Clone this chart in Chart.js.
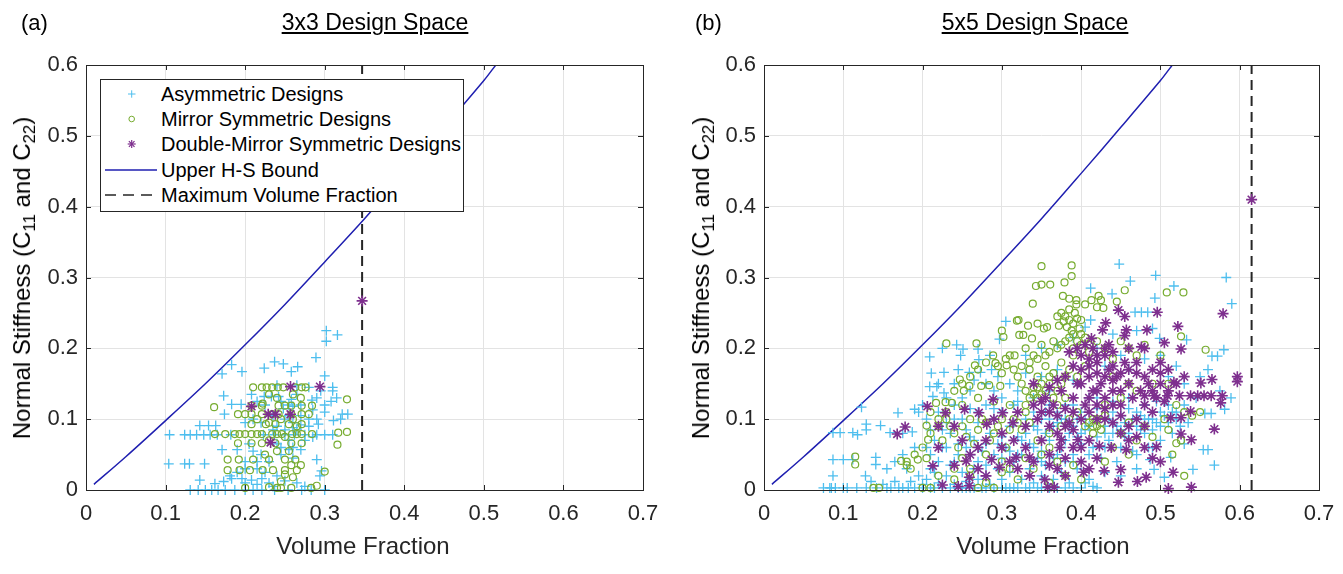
<!DOCTYPE html>
<html><head><meta charset="utf-8">
<script src="https://cdn.jsdelivr.net/npm/chart.js@4.4.1/dist/chart.umd.min.js"></script>
<style>
html,body{margin:0;padding:0;background:#fff;}
body{width:1343px;height:574px;position:relative;overflow:hidden;font-family:"Liberation Sans",Arial,sans-serif;}
.panel{position:absolute;top:0;height:574px;}
.panel canvas{position:absolute;left:0;top:0;}
.plab{position:absolute;font-size:22px;line-height:22px;color:#000;white-space:nowrap;}
.title{position:absolute;font-size:23px;line-height:23px;color:#000;text-decoration:underline;text-underline-offset:2px;white-space:nowrap;transform:translateX(-50%);}
.xt{position:absolute;font-size:24px;line-height:24px;color:#262626;white-space:nowrap;transform:translate(-50%,-50%);}
.yt{position:absolute;font-size:24px;line-height:24px;color:#000;white-space:nowrap;transform:translate(-50%,-50%) rotate(-90deg);}
.yt sub{font-size:70%;vertical-align:-0.28em;line-height:0;}
.legend{position:absolute;left:100px;top:79px;width:364px;height:133px;background:#fff;}
.legend svg{position:absolute;left:0;top:0;}
.legend span{position:absolute;left:61px;font-size:20px;line-height:20px;color:#000;white-space:nowrap;}
</style></head>
<body>
<div class="panel" style="left:0;width:671px;"><canvas id="c1" width="671" height="574"></canvas></div>
<div class="panel" style="left:671px;width:672px;"><canvas id="c2" width="672" height="574"></canvas></div>

<div class="plab" style="left:21px;top:12px;">(a)</div>
<div class="title" style="left:375px;top:11px;">3x3 Design Space</div>
<div class="plab" style="left:695px;top:12px;">(b)</div>
<div class="title" style="left:1035px;top:11px;">5x5 Design Space</div>

<div class="xt" style="left:363px;top:546px;">Volume Fraction</div>
<div class="xt" style="left:1043px;top:546px;">Volume Fraction</div>
<div class="yt" style="left:22px;top:278px;">Normal Stiffness (C<sub>11</sub> and C<sub>22</sub>)</div>
<div class="yt" style="left:701px;top:278px;">Normal Stiffness (C<sub>11</sub> and C<sub>22</sub>)</div>

<div class="legend">
<svg width="364" height="133">
<rect x="0.5" y="0.5" width="363" height="132" fill="#fff" stroke="#262626" stroke-width="1"/>
<g stroke="#4DBEEE" stroke-width="1"><line x1="28" y1="15" x2="35.5" y2="15"/><line x1="31.7" y1="11.3" x2="31.7" y2="18.7"/></g>
<circle cx="31.7" cy="40" r="2.8" fill="none" stroke="#77AC30" stroke-width="1"/>
<g stroke="#7E2F8E" stroke-width="1.2"><line x1="27.7" y1="65" x2="35.7" y2="65"/><line x1="31.7" y1="61" x2="31.7" y2="69"/><line x1="28.9" y1="62.2" x2="34.5" y2="67.8"/><line x1="28.9" y1="67.8" x2="34.5" y2="62.2"/></g>
<line x1="5" y1="91" x2="57" y2="91" stroke="#1f1fb0" stroke-width="1.5"/>
<line x1="5" y1="116" x2="57" y2="116" stroke="#262626" stroke-width="1.5" stroke-dasharray="11 7"/>
</svg>
<span style="top:5px;">Asymmetric Designs</span>
<span style="top:30px;">Mirror Symmetric Designs</span>
<span style="top:55px;">Double-Mirror Symmetric Designs</span>
<span style="top:81px;">Upper H-S Bound</span>
<span style="top:106px;">Maximum Volume Fraction</span>
</div>

<script>
// ---------- DATA ----------
const xTickLabels = ['0','0.1','0.2','0.3','0.4','0.5','0.6','0.7'];
const yTickLabels = ['0','0.1','0.2','0.3','0.4','0.5','0.6'];

// Upper Hashin-Shtrikman bound
const hsX = [0.01,0.05,0.1,0.15,0.2,0.25,0.3,0.35,0.4,0.45,0.5,0.515];
const hsY = [0.008,0.047,0.098,0.15,0.205,0.262,0.322,0.383,0.447,0.512,0.578,0.6];

const maxVF3 = 0.347;
const maxVF5 = 0.615;

// 3x3 design space
const asym3 = [
[0.302,0.225],[0.302,0.21],[0.316,0.219],[0.289,0.187],[0.183,0.177],[0.171,0.164],[0.196,0.167],[0.224,0.172],[0.237,0.181],[0.248,0.178],
[0.258,0.167],[0.266,0.174],[0.30,0.161],[0.173,0.133],[0.183,0.121],[0.195,0.121],[0.208,0.135],[0.224,0.132],[0.233,0.132],[0.242,0.132],
[0.258,0.128],[0.265,0.135],[0.284,0.127],[0.308,0.125],[0.285,0.113],[0.30,0.11],[0.329,0.107],[0.322,0.107],[0.311,0.098],[0.292,0.093],
[0.174,0.107],[0.143,0.091],[0.154,0.091],[0.163,0.091],
[0.105,0.078],[0.124,0.078],[0.131,0.078],[0.139,0.078],[0.148,0.078],[0.156,0.078],[0.165,0.078],[0.182,0.078],[0.223,0.078],[0.237,0.078],
[0.25,0.078],[0.262,0.078],[0.275,0.078],[0.29,0.078],[0.30,0.078],[0.31,0.078],
[0.171,0.057],[0.19,0.057],[0.245,0.06],[0.255,0.057],[0.27,0.057],
[0.104,0.037],[0.124,0.037],[0.130,0.037],[0.149,0.037],[0.29,0.043],
[0.181,0.02],[0.143,0.014],[0.162,0.009],[0.173,0.012],[0.183,0.016],[0.196,0.016],[0.208,0.014],[0.221,0.016],[0.294,0.02],[0.296,0.027],
[0.2,0.01],[0.215,0.008],[0.23,0.01],
[0.131,0],[0.141,0],[0.150,0],[0.158,0],[0.166,0],[0.175,0],[0.187,0],[0.2,0],[0.21,0],[0.221,0],[0.237,0],[0.254,0],[0.271,0],[0.283,0],[0.30,0],
[0.25,0.1],[0.26,0.095],[0.27,0.105],[0.28,0.09],[0.22,0.095],[0.235,0.085],[0.248,0.115],[0.26,0.118],[0.27,0.12],[0.28,0.145],
[0.265,0.148],[0.2,0.095],[0.21,0.1],[0.235,0.105],[0.265,0.085],[0.275,0.07],[0.285,0.075],[0.255,0.07],[0.23,0.04],[0.215,0.04],
[0.2,0.04],[0.26,0.045],[0.295,0.14],[0.31,0.145],[0.32,0.1],[0.29,0.1],[0.2,0.03],[0.19,0.025],[0.255,0.12],[0.24,0.148],
[0.24,0.09],[0.25,0.085],[0.26,0.088],[0.27,0.092],[0.28,0.1],[0.255,0.105],[0.245,0.125],[0.225,0.12],[0.215,0.125],[0.24,0.065],
[0.26,0.06],[0.22,0.05],[0.245,0.05],[0.205,0.065],[0.21,0.055],[0.215,0.03],[0.225,0.025],[0.24,0.02],[0.25,0.013],[0.265,0.01],
[0.275,0.005],[0.235,0.005],[0.29,0.13],[0.3,0.12],[0.315,0.13],[0.31,0.14]
];
const mirror3 = [
[0.21,0.145],[0.221,0.145],[0.227,0.145],[0.234,0.145],[0.241,0.145],[0.248,0.145],[0.263,0.145],[0.271,0.145],[0.276,0.145],
[0.161,0.117],[0.328,0.128],[0.222,0.122],
[0.208,0.119],[0.221,0.119],[0.242,0.119],[0.25,0.119],[0.258,0.119],[0.271,0.119],[0.284,0.119],
[0.191,0.107],[0.2,0.107],[0.208,0.107],[0.221,0.107],[0.234,0.107],[0.242,0.107],[0.258,0.107],[0.271,0.107],[0.28,0.107],
[0.208,0.093],[0.226,0.093],[0.238,0.093],[0.255,0.093],[0.271,0.093],
[0.162,0.079],[0.175,0.079],[0.187,0.079],[0.193,0.079],[0.2,0.079],[0.208,0.079],[0.215,0.079],[0.221,0.079],[0.234,0.079],[0.24,0.079],
[0.246,0.079],[0.259,0.079],[0.265,0.079],[0.271,0.079],[0.284,0.079],[0.317,0.081],[0.328,0.082],
[0.316,0.064],
[0.191,0.066],[0.208,0.066],[0.221,0.066],[0.238,0.066],[0.258,0.066],[0.271,0.066],
[0.178,0.043],[0.192,0.043],[0.21,0.043],[0.23,0.043],[0.25,0.043],[0.263,0.043],
[0.178,0.028],[0.193,0.028],[0.206,0.028],[0.222,0.028],[0.235,0.028],[0.25,0.028],[0.265,0.028],[0.30,0.026],
[0.258,0.035],[0.26,0.018],[0.25,0.022],
[0.2,0.003],[0.24,0.003],[0.245,0.003],[0.258,0.003],[0.283,0.003],[0.29,0.006],
[0.23,0.095],[0.245,0.1],[0.26,0.1],[0.265,0.09],[0.25,0.075],[0.23,0.07],[0.27,0.13],[0.26,0.135],[0.24,0.13],[0.23,0.135],
[0.215,0.1],[0.255,0.055],[0.225,0.05],[0.24,0.055],[0.27,0.035],[0.245,0.012],[0.23,0.004]
];
const double3 = [
[0.347,0.267],[0.257,0.146],[0.294,0.146],[0.208,0.118],[0.229,0.107],[0.238,0.107],[0.257,0.107],[0.232,0.067]
];

// 5x5 design space
const asym5 = [
[0.075,0.003],[0.083,0.003],[0.09,0.003],[0.087,0.02],[0.087,0.043],[0.1,0.043],[0.112,0.043],[0.087,0.081],[0.096,0.081],[0.112,0.081],
[0.118,0.078],[0.117,0.003],[0.129,0.003],[0.142,0.003],[0.123,0.117],[0.129,0.093],[0.129,0.085],[0.147,0.091],[0.141,0.046],[0.141,0.036],
[0.128,0.02],[0.135,0.012],[0.15,0.008],[0.16,0.003],[0.165,0.012],[0.17,0.003],[0.159,0.081],[0.169,0.109],[0.19,0.114],[0.195,0.11],
[0.187,0.082],[0.19,0.06],[0.175,0.08],[0.18,0.03],[0.185,0.012],[0.19,0.003],[0.195,0.02],[0.175,0.05],[0.165,0.04],[0.155,0.03],
[0.175,0.003],[0.182,0.003],
[0.211,0.165],[0.227,0.166],[0.259,0.166],[0.273,0.166],[0.209,0.188],[0.248,0.19],[0.271,0.184],[0.285,0.19],[0.225,0.2],[0.243,0.205],
[0.251,0.199],[0.27,0.199],[0.287,0.17],[0.297,0.213],[0.305,0.238],[0.209,0.146],[0.218,0.146],[0.227,0.137],[0.213,0.132],[0.24,0.15],
[0.26,0.14],[0.28,0.15],[0.295,0.16],
[0.2,0.12],[0.205,0.1],[0.21,0.085],[0.215,0.07],[0.22,0.11],[0.225,0.06],[0.23,0.095],[0.235,0.08],[0.24,0.12],[0.245,0.065],
[0.25,0.1],[0.255,0.085],[0.26,0.115],[0.265,0.07],[0.27,0.095],[0.275,0.055],[0.28,0.12],[0.285,0.08],[0.29,0.1],[0.295,0.065],
[0.3,0.11],[0.21,0.05],[0.24,0.04],[0.26,0.05],[0.28,0.035],
[0.2,0.003],[0.205,0.015],[0.21,0.003],[0.215,0.025],[0.22,0.01],[0.225,0.003],[0.23,0.02],[0.235,0.035],[0.24,0.008],[0.245,0.003],
[0.25,0.025],[0.255,0.012],[0.26,0.003],[0.265,0.03],[0.27,0.015],[0.275,0.003],[0.28,0.02],[0.285,0.008],[0.29,0.003],[0.295,0.03],
[0.3,0.015],[0.305,0.003],[0.31,0.025],[0.315,0.04],[0.32,0.003],[0.325,0.015],[0.33,0.003],[0.335,0.03],[0.34,0.01],[0.345,0.003],
[0.35,0.02],[0.355,0.035],[0.36,0.003],[0.365,0.015],[0.37,0.003],[0.375,0.025],[0.38,0.04],[0.385,0.01],[0.39,0.003],[0.395,0.03],
[0.4,0.003],[0.41,0.015],[0.42,0.003],
[0.305,0.06],[0.31,0.09],[0.315,0.12],[0.32,0.075],[0.325,0.05],[0.33,0.1],[0.335,0.065],[0.34,0.13],[0.345,0.085],[0.35,0.055],
[0.355,0.11],[0.36,0.07],[0.365,0.045],[0.37,0.095],[0.375,0.06],[0.38,0.12],[0.385,0.08],[0.39,0.05],[0.395,0.1],[0.4,0.065],
[0.31,0.15],[0.33,0.165],[0.35,0.16],[0.37,0.17],[0.39,0.155],[0.32,0.14],[0.36,0.14],
[0.33,0.19],[0.35,0.2],[0.37,0.205],[0.39,0.215],[0.412,0.285],[0.412,0.24],[0.405,0.23],[0.395,0.2],
[0.448,0.319],[0.462,0.295],[0.494,0.303],[0.439,0.277],[0.493,0.271],[0.517,0.288],[0.468,0.251],[0.476,0.251],[0.484,0.251],[0.44,0.22],
[0.47,0.225],[0.49,0.228],[0.499,0.214],[0.533,0.212],[0.42,0.2],[0.45,0.19],[0.48,0.185],[0.5,0.19],[0.46,0.17],[0.43,0.175],
[0.405,0.1],[0.41,0.13],[0.415,0.06],[0.42,0.115],[0.425,0.045],[0.43,0.09],[0.435,0.07],[0.44,0.125],[0.445,0.04],[0.45,0.105],
[0.455,0.075],[0.46,0.13],[0.465,0.055],[0.47,0.11],[0.475,0.085],[0.48,0.12],[0.485,0.06],[0.49,0.1],[0.495,0.125],[0.5,0.09],
[0.487,0.043],[0.513,0.046],[0.492,0.029],[0.505,0.018],[0.47,0.03],[0.45,0.02],[0.43,0.025],
[0.583,0.3],[0.59,0.263],[0.58,0.198],[0.565,0.189],[0.572,0.189],[0.589,0.13],[0.581,0.114],[0.564,0.108],[0.556,0.108],[0.554,0.057],
[0.56,0.057],[0.541,0.029],[0.568,0.035],[0.51,0.12],[0.52,0.11],[0.53,0.15],[0.535,0.095],[0.545,0.13],[0.52,0.175],[0.51,0.16],
[0.53,0.065],[0.515,0.08],[0.55,0.16],[0.575,0.14],[0.56,0.17],
[0.085,0.003],[0.1,0.003],[0.105,0.003],[0.155,0.003],[0.2,0.008],[0.215,0.003],[0.235,0.003],[0.25,0.003],[0.255,0.003],[0.265,0.003],
[0.28,0.003],[0.3,0.003],[0.31,0.003],[0.315,0.003],[0.335,0.003],[0.35,0.003],[0.38,0.003],[0.405,0.01],[0.415,0.005],
[0.21,0.03],[0.22,0.04],[0.23,0.06],[0.245,0.05],[0.255,0.06],[0.27,0.04],[0.29,0.05],[0.3,0.045],[0.31,0.055],[0.325,0.07],
[0.33,0.08],[0.34,0.06],[0.345,0.045],[0.355,0.08],[0.36,0.1],[0.365,0.09],[0.375,0.1],[0.38,0.07],[0.39,0.09],[0.395,0.075],
[0.4,0.08],[0.405,0.085],[0.41,0.09],[0.42,0.075],[0.43,0.06],[0.435,0.1],[0.44,0.08],[0.445,0.09],[0.45,0.085],[0.455,0.095],
[0.46,0.08],[0.465,0.1],[0.47,0.09],[0.475,0.105],[0.48,0.08],[0.485,0.1],[0.49,0.085],[0.495,0.095],[0.5,0.11],[0.505,0.105],
[0.51,0.095],[0.515,0.11],[0.52,0.1],[0.525,0.09],[0.53,0.12],[0.3,0.13],[0.32,0.125],[0.34,0.11],[0.36,0.12],[0.23,0.13],
[0.25,0.13],[0.27,0.11],[0.29,0.14],[0.22,0.15],[0.245,0.17],[0.265,0.155],[0.29,0.115],[0.205,0.06],[0.225,0.085],[0.24,0.1],
[0.26,0.075],[0.28,0.065],[0.3,0.075],[0.315,0.095],[0.32,0.05],[0.34,0.09],[0.35,0.1],[0.37,0.11],[0.38,0.1],[0.39,0.12],
[0.4,0.11],[0.42,0.13],[0.44,0.11],[0.46,0.115],[0.48,0.1],[0.5,0.07],[0.49,0.06],[0.47,0.05],[0.45,0.06],[0.43,0.08],
[0.41,0.05],[0.39,0.04],[0.37,0.05],[0.35,0.04]
];
const mirror5 = [
[0.35,0.316],[0.388,0.317],[0.388,0.302],[0.343,0.288],[0.35,0.29],[0.361,0.29],[0.379,0.293],[0.455,0.282],[0.508,0.279],[0.529,0.279],
[0.377,0.274],[0.385,0.27],[0.394,0.268],[0.422,0.274],[0.425,0.268],[0.339,0.263],[0.394,0.262],[0.405,0.262],[0.413,0.268],[0.42,0.258],
[0.428,0.257],[0.445,0.266],[0.319,0.239],[0.322,0.219],[0.3,0.225],[0.302,0.216],[0.321,0.24],[0.333,0.232],[0.345,0.235],[0.353,0.228],
[0.357,0.23],[0.327,0.219],[0.338,0.214],
[0.375,0.25],[0.38,0.245],[0.385,0.24],[0.39,0.235],[0.395,0.242],[0.382,0.23],[0.388,0.225],[0.392,0.25],[0.378,0.238],[0.398,0.228],
[0.385,0.255],[0.372,0.232],[0.4,0.24],[0.39,0.22],[0.37,0.245],
[0.23,0.207],[0.268,0.207],[0.266,0.176],[0.289,0.19],[0.292,0.179],[0.306,0.176],[0.31,0.19],[0.316,0.19],[0.247,0.156],[0.259,0.147],
[0.274,0.147],[0.284,0.148],[0.298,0.147],[0.252,0.14],[0.217,0.123],[0.229,0.124],[0.237,0.123],[0.205,0.091],[0.207,0.071],[0.3,0.165],
[0.32,0.16],
[0.33,0.2],[0.34,0.19],[0.35,0.205],[0.36,0.195],[0.37,0.2],[0.38,0.21],[0.39,0.19],[0.4,0.205],[0.41,0.195],[0.42,0.21],
[0.335,0.17],[0.345,0.16],[0.355,0.175],[0.365,0.165],[0.375,0.18],[0.385,0.17],[0.395,0.16],[0.405,0.175],[0.33,0.14],[0.34,0.145],
[0.35,0.135],[0.36,0.15],[0.37,0.14],[0.38,0.13],[0.345,0.13],[0.355,0.14],[0.325,0.15],[0.34,0.135],
[0.21,0.11],[0.22,0.09],[0.23,0.1],[0.24,0.08],[0.25,0.09],[0.26,0.1],[0.27,0.085],[0.28,0.095],[0.29,0.08],[0.3,0.1],
[0.31,0.085],[0.32,0.095],[0.225,0.07],[0.245,0.06],[0.265,0.065],[0.285,0.07],[0.305,0.06],[0.25,0.12],[0.27,0.13],[0.29,0.125],
[0.31,0.12],[0.33,0.11],
[0.115,0.047],[0.115,0.036],[0.138,0.003],[0.145,0.003],[0.173,0.041],[0.18,0.035],[0.194,0.043],[0.205,0.045],[0.18,0.04],[0.185,0.03],
[0.2,0.003],[0.21,0.003],
[0.22,0.02],[0.24,0.015],[0.26,0.03],[0.28,0.01],[0.3,0.025],[0.32,0.015],[0.34,0.03],[0.36,0.01],[0.38,0.02],[0.27,0.003],
[0.29,0.003],[0.25,0.045],[0.35,0.05],[0.37,0.04],[0.39,0.035],[0.4,0.015],
[0.43,0.2],[0.44,0.185],[0.45,0.21],[0.46,0.2],[0.47,0.19],[0.48,0.205],[0.44,0.16],[0.46,0.15],[0.415,0.1],[0.42,0.09],
[0.425,0.085],[0.41,0.095],[0.43,0.105],[0.45,0.08],[0.46,0.095],[0.47,0.07],[0.48,0.09],[0.49,0.075],[0.44,0.06],[0.46,0.05],
[0.43,0.04],
[0.557,0.198],[0.526,0.217],[0.5,0.19],[0.51,0.15],[0.52,0.12],[0.53,0.11],[0.52,0.066],[0.526,0.07],[0.54,0.105],[0.55,0.11],
[0.505,0.1],[0.51,0.085],[0.515,0.05],[0.53,0.02],
[0.33,0.12],[0.335,0.13],[0.345,0.145],[0.35,0.15],[0.36,0.16],[0.365,0.13],[0.37,0.12],[0.375,0.15],[0.38,0.16],[0.39,0.2],
[0.395,0.21],[0.4,0.22],[0.405,0.215],[0.41,0.205],[0.385,0.215],[0.375,0.205],[0.365,0.21],[0.355,0.19],[0.345,0.185],[0.335,0.18],
[0.325,0.175],[0.315,0.17],[0.305,0.185],[0.295,0.175],[0.28,0.18],[0.27,0.17],[0.26,0.16],[0.25,0.15],[0.24,0.14],[0.23,0.11],
[0.22,0.1],[0.21,0.08],[0.2,0.06],[0.19,0.05],[0.235,0.09],[0.255,0.075],[0.275,0.1],[0.295,0.09],[0.315,0.1],[0.325,0.085],
[0.335,0.095],[0.345,0.07],[0.36,0.08],[0.375,0.09],[0.385,0.1],[0.395,0.11],[0.405,0.09],[0.415,0.08],[0.42,0.1],[0.425,0.095],
[0.415,0.09],[0.43,0.12],[0.45,0.13],[0.47,0.14],[0.49,0.15],[0.3,0.04],[0.31,0.03],[0.33,0.045],[0.36,0.06],[0.28,0.05],
[0.26,0.02],[0.24,0.03]
];
const double5 = [
[0.615,0.41],
[0.447,0.254],[0.455,0.245],[0.457,0.226],[0.455,0.218],[0.496,0.251],[0.579,0.249],[0.431,0.236],[0.427,0.226],[0.483,0.226],[0.522,0.231],
[0.505,0.208],[0.526,0.199],[0.476,0.202],[0.413,0.214],[0.43,0.2],[0.435,0.205],[0.44,0.195],[0.42,0.19],
[0.597,0.16],[0.597,0.153],[0.565,0.156],[0.551,0.151],[0.53,0.16],[0.517,0.152],[0.48,0.133],[0.492,0.133],[0.509,0.133],[0.524,0.133],
[0.538,0.133],[0.547,0.133],[0.555,0.133],[0.564,0.133],[0.578,0.133],[0.576,0.123],[0.538,0.111],[0.526,0.102],[0.513,0.102],[0.568,0.086],
[0.526,0.079],[0.539,0.071],[0.495,0.061],[0.516,0.025],[0.539,0.004],[0.51,0.002],[0.482,0.018],[0.471,0.012],[0.447,0.011],[0.457,0.057],
[0.438,0.06],[0.423,0.062],[0.403,0.025],[0.429,0.027],[0.45,0.029],[0.354,0.015],[0.358,0.004],[0.366,0.004],[0.335,0.02],[0.318,0.046],
[0.335,0.046],[0.375,0.071],[0.373,0.06],[0.396,0.071],
[0.178,0.089],[0.168,0.079],[0.206,0.118],[0.229,0.109],[0.253,0.114],[0.22,0.09],[0.213,0.034],[0.225,0.007],[0.255,0.041],[0.287,0.043],
[0.297,0.032],[0.259,0.018],[0.259,0.006],[0.245,0.005],[0.271,0.109],[0.301,0.109],[0.314,0.095],[0.281,0.093],[0.289,0.128],[0.26,0.05],
[0.27,0.06],[0.3,0.06],[0.31,0.04],[0.28,0.02],[0.24,0.035],[0.22,0.06],[0.315,0.07],
[0.34,0.12],[0.345,0.1],[0.35,0.11],[0.355,0.13],[0.36,0.09],[0.365,0.12],[0.37,0.105],[0.375,0.14],[0.38,0.115],[0.385,0.095],
[0.39,0.13],[0.395,0.15],[0.4,0.17],[0.405,0.12],[0.41,0.16],[0.415,0.14],[0.42,0.18],[0.425,0.15],[0.43,0.13],[0.435,0.17],
[0.44,0.14],[0.445,0.16],[0.45,0.12],[0.455,0.18],[0.46,0.15],[0.465,0.13],[0.47,0.165],[0.475,0.14],[0.48,0.12],[0.485,0.15],
[0.49,0.17],[0.495,0.13],[0.5,0.15],[0.505,0.125],[0.51,0.14],[0.38,0.16],[0.39,0.175],[0.4,0.19],[0.41,0.185],[0.42,0.165],
[0.43,0.19],[0.44,0.175],[0.45,0.165],[0.36,0.145],[0.37,0.155],[0.4,0.1],[0.41,0.11],[0.42,0.1],[0.43,0.115],[0.44,0.095],
[0.45,0.105],[0.46,0.09],[0.47,0.1],[0.48,0.09],[0.49,0.11],[0.35,0.07],[0.36,0.05],[0.37,0.03],[0.38,0.045],[0.39,0.06],
[0.4,0.04],[0.41,0.07],[0.42,0.045],[0.39,0.085],[0.33,0.09],[0.32,0.11],[0.34,0.15],[0.395,0.2],[0.405,0.205],[0.385,0.195],
[0.415,0.2],
[0.37,0.08],[0.38,0.09],[0.36,0.11],[0.35,0.125],[0.39,0.11],[0.41,0.13],[0.42,0.14],[0.43,0.16],[0.44,0.155],[0.45,0.14],
[0.46,0.17],[0.47,0.18],[0.48,0.16],[0.49,0.14],[0.5,0.165],[0.52,0.15],[0.51,0.17],[0.5,0.18],[0.48,0.2],[0.46,0.2],
[0.4,0.15],[0.41,0.175],[0.42,0.12],[0.43,0.1],[0.44,0.12],[0.45,0.08],[0.46,0.07],[0.47,0.075],[0.48,0.06],[0.49,0.045],
[0.5,0.04],[0.33,0.06],[0.32,0.03],[0.3,0.08],[0.29,0.1],[0.28,0.07],[0.27,0.03],[0.25,0.07],[0.24,0.09],[0.4,0.06],
[0.41,0.03],[0.38,0.02],[0.36,0.035],[0.34,0.04]
];

// ---------- CHART ----------
const COL_ASYM = '#4DBEEE', COL_MIR = '#77AC30', COL_DBL = '#7E2F8E', COL_HS = '#1f1fb0', COL_AX = '#262626';
const toPts = arr => arr.map(p => ({x:p[0], y:p[1]}));

const boxPlugin = {
  id: 'matlabBox',
  afterDatasetsDraw(chart) {
    const {ctx, chartArea: a, scales} = chart;
    ctx.save();
    ctx.strokeStyle = COL_AX;
    ctx.lineWidth = 1;
    ctx.beginPath();
    const tl = 5;
    scales.x.ticks.forEach(t => {
      const px = Math.round(scales.x.getPixelForValue(t.value)) + 0.5;
      ctx.moveTo(px, a.bottom); ctx.lineTo(px, a.bottom - tl);
      ctx.moveTo(px, a.top); ctx.lineTo(px, a.top + tl);
    });
    scales.y.ticks.forEach(t => {
      const py = Math.round(scales.y.getPixelForValue(t.value)) + 0.5;
      ctx.moveTo(a.left, py); ctx.lineTo(a.left + tl, py);
      ctx.moveTo(a.right, py); ctx.lineTo(a.right - tl, py);
    });
    ctx.stroke();
    ctx.strokeRect(Math.round(a.left) + 0.5, Math.round(a.top) + 0.5, Math.round(a.right - a.left), Math.round(a.bottom - a.top));
    ctx.restore();
  }
};

function makeChart(id, yAxisWidth, padRight, asym, mirror, dbl, maxVF) {
  const hs = hsX.map((x, i) => ({x, y: hsY[i]}));
  return new Chart(document.getElementById(id), {
    type: 'scatter',
    data: {
      datasets: [
        {label:'Double-Mirror Symmetric Designs', data: toPts(dbl), order:1, pointStyle:'star', radius:5.5, borderColor:COL_DBL, backgroundColor:COL_DBL, borderWidth:1.6, clip:false},
        {label:'Mirror Symmetric Designs', data: toPts(mirror), order:2, pointStyle:'circle', radius:3.5, borderColor:COL_MIR, backgroundColor:'rgba(0,0,0,0)', borderWidth:1.2, clip:false},
        {label:'Asymmetric Designs', data: toPts(asym), order:3, pointStyle:'cross', radius:5, borderColor:COL_ASYM, backgroundColor:COL_ASYM, borderWidth:1.3, clip:false},
        {label:'Upper H-S Bound', data: hs, order:4, showLine:true, pointRadius:0, borderColor:COL_HS, borderWidth:1.5, fill:false, tension:0.3},
        {label:'Maximum Volume Fraction', data:[{x:maxVF,y:0},{x:maxVF,y:0.6}], order:5, showLine:true, pointRadius:0, borderColor:COL_AX, borderWidth:2, borderDash:[10,6]}
      ]
    },
    options: {
      responsive:false, animation:false, events:[],
      layout:{padding:{left:0, right:padRight, top:65, bottom:0}},
      plugins:{legend:{display:false}, tooltip:{enabled:false}, title:{display:false}},
      scales:{
        x:{type:'linear', min:0, max:0.7,
           ticks:{stepSize:0.1, padding:11, color:COL_AX, font:{family:'"Liberation Sans", Arial, sans-serif', size:22}, maxRotation:0,
                  callback:(v,i)=>xTickLabels[i]},
           grid:{color:'#e3e3e3', lineWidth:1, drawTicks:false}, border:{display:false},
           afterFit(s){ s.height = 84; s.paddingLeft = 0; s.paddingRight = 0; }},
        y:{type:'linear', min:0, max:0.6,
           ticks:{stepSize:0.1, padding:8, color:COL_AX, font:{family:'"Liberation Sans", Arial, sans-serif', size:22},
                  callback:(v,i)=>yTickLabels[i]},
           grid:{color:'#e3e3e3', lineWidth:1, drawTicks:false}, border:{display:false},
           afterFit(s){ s.width = yAxisWidth; s.paddingTop = 0; s.paddingBottom = 0; }}
      }
    },
    plugins:[boxPlugin]
  });
}

makeChart('c1', 86, 28, asym3, mirror3, double3, maxVF3);
makeChart('c2', 93, 24, asym5, mirror5, double5, maxVF5);
</script>
</body></html>
